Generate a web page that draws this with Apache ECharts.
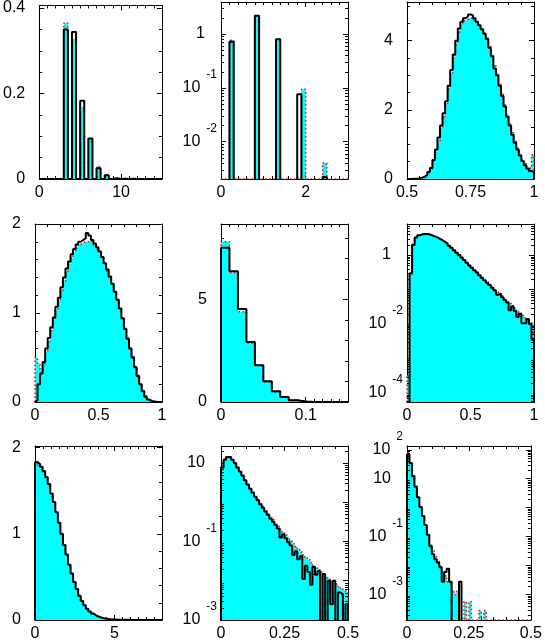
<!DOCTYPE html>
<html>
<head>
<meta charset="utf-8">
<script src="https://cdn.jsdelivr.net/npm/echarts@6/dist/echarts.min.js"></script>
<style>
  html, body { margin: 0; padding: 0; background: #fff; }
  #chart { width: 545px; height: 642px; }
</style>
</head>
<body>
<div id="chart"></div>
<script>
// bin contents (black = open histogram, cyan = filled one)
var p1Black = [0,0,0,0,0,0,0.35,0,0.344,0,0.183,0,0.095,0,0.025,0,0.009,0,0.002,0,0.0007,0,0.0003,0,0,0,0,0,0,0]
var p1Cyan = [0,0,0,0,0,0,0.365,0,0.328,0,0.168,0,0.094,0,0.029,0,0.0095,0,0.0025,0,0.001,0,0.0005,0,0,0,0,0,0,0]

var p2Black = [0,0,0.72,0,0,0,0,0,2.19,0,0,0,0,0.80,0,0,0,0,0.076,0,0,0,0,0,0.0022,0,0,0,0,0]
var p2Cyan = [0,0,0.77,0,0,0,0,0,2.15,0,0,0,0,0.80,0,0,0,0,0,0.094,0,0,0,0,0.004,0,0,0,0,0]

var p3Black = [0,0,0.005,0.01,0.02,0.04,0.07,0.12,0.2,0.32,
  0.55,0.85,1.2,1.55,1.9,2.25,2.7,3.15,3.6,4.0,
  4.35,4.55,4.65,4.7,4.76,4.74,4.65,4.55,4.45,4.33,
  4.2,4.05,3.8,3.55,3.2,3.0,2.7,2.4,2.1,1.8,
  1.55,1.28,1.05,0.85,0.68,0.52,0.4,0.3,0.23,0.2]
var p3Cyan = [0,0,0.005,0.01,0.02,0.035,0.06,0.11,0.18,0.29,
  0.5,0.78,1.1,1.45,1.8,2.15,2.6,3.05,3.5,3.9,
  4.25,4.48,4.58,4.62,4.66,4.66,4.6,4.52,4.44,4.33,
  4.22,4.08,3.85,3.6,3.3,3.05,2.75,2.45,2.15,1.86,
  1.6,1.34,1.1,0.9,0.72,0.56,0.44,0.35,0.3,0.7]

var p4Black = [0.02,0.2,0.32,0.45,0.6,0.72,0.84,0.95,1.07,1.17,
  1.29,1.4,1.5,1.58,1.66,1.72,1.77,1.8,1.82,1.84,
  1.9,1.87,1.82,1.78,1.74,1.69,1.63,1.56,1.49,1.41,
  1.33,1.24,1.15,1.05,0.94,0.82,0.71,0.6,0.5,0.39,
  0.29,0.2,0.12,0.06,0.027,0.012,0.005,0.002,0,0]
var p4Cyan = [0.5,0.42,0.36,0.43,0.56,0.68,0.8,0.92,1.03,1.14,
  1.25,1.36,1.46,1.55,1.62,1.68,1.73,1.77,1.79,1.8,
  1.8,1.81,1.8,1.76,1.72,1.67,1.62,1.55,1.47,1.4,
  1.32,1.23,1.14,1.05,0.94,0.83,0.72,0.61,0.51,0.4,
  0.3,0.21,0.13,0.07,0.03,0.013,0.006,0.002,0.001,0]

var p5Black = [7.52,6.38,4.53,2.93,1.79,1.01,0.52,0.24,0.08,0.02,0.005,0,0,0,0]
var p5Cyan = [7.82,6.32,4.40,2.88,1.79,0.98,0.50,0.23,0.10,0.03,0.005,0,0,0,0]

var p6Black = [0,0.295,2.0,3.24,3.72,3.98,4.07,4.07,3.98,3.72,
  3.47,3.24,2.95,2.69,2.40,2.14,1.86,1.62,1.38,1.17,
  1.0,0.85,0.72,0.60,0.50,0.43,0.36,0.31,0.26,0.22,
  0.186,0.158,0.135,0.112,0.095,0.071,0.076,0.060,0.050,0.042,
  0.025,0.032,0.024,0.016,0.020,0.0105,0.0105,0.014,0.010,0.0035]
var p6Cyan = [0.00032,0.28,1.9,3.16,3.63,3.9,4.0,4.0,3.9,3.7,
  3.45,3.2,2.92,2.66,2.38,2.12,1.85,1.61,1.38,1.17,
  1.0,0.85,0.72,0.61,0.51,0.43,0.37,0.315,0.265,0.225,
  0.19,0.166,0.141,0.12,0.102,0.087,0.076,0.065,0.055,0.047,
  0.040,0.034,0.029,0.0245,0.021,0.0178,0.0151,0.0129,0.011,0.010]

var p7Black = [1.83,1.81,1.78,1.73,1.66,1.58,1.47,1.37,1.25,1.13,
  1.0,0.87,0.76,0.64,0.54,0.44,0.36,0.28,0.22,0.17,
  0.13,0.10,0.075,0.055,0.04,0.03,0.022,0.016,0.012,0.009,
  0.007,0.005,0.004,0.003,0.002,0.002,0.0015,0.001,0.001,0.001,
  0.0008,0.0007,0.0006,0.0005,0.0004,0.0004,0.0003,0.0003,0.0002,0.0002]
var p7Cyan = [1.84,1.8,1.76,1.72,1.65,1.56,1.46,1.35,1.24,1.12,
  0.99,0.87,0.75,0.64,0.54,0.44,0.36,0.29,0.225,0.175,
  0.135,0.1,0.077,0.057,0.042,0.031,0.023,0.017,0.012,0.009,
  0.007,0.005,0.004,0.003,0.0025,0.002,0.0015,0.0012,0.001,0.001,
  0.0008,0.0008,0.0006,0.0005,0.0005,0.0004,0.0003,0.0003,0.0002,0.0002]

var p8Black = [7.6,12.0,14.1,14.1,12.0,10.0,7.6,6.0,4.8,3.6,
  2.8,2.2,1.74,1.38,1.12,0.89,0.72,0.575,0.48,0.38,
  0.316,0.263,0.214,0.126,0.151,0.120,0.095,0.079,0.045,0.056,
  0.035,0.042,0.011,0.024,0.0166,0.0079,0.0224,0.0141,0.0178,0,
  0.0148,0,0.010,0.0025,0.010,0,0.005,0.0045,0,0.0025]
var p8Cyan = [7.9,12.6,14.1,13.5,11.7,9.5,7.6,6.0,4.7,3.6,
  2.9,2.3,1.82,1.45,1.17,0.95,0.78,0.63,0.51,0.43,
  0.355,0.295,0.245,0.204,0.174,0.145,0.123,0.105,0.087,0.074,
  0.063,0.054,0.046,0.039,0.034,0.029,0.025,0.022,0.019,0.0166,
  0.0145,0.0126,0.011,0.0095,0.0056,0.0083,0.0071,0.0063,0.0056,0.005]

var p9Black = [69,35,12.3,5.4,2.3,1.05,0.52,0.25,0.117,0.047,
  0.0245,0.0166,0.0129,0.0087,0.00275,0.006,0.0078,0.00275,0,0,
  0,0.00275,0,0,0,0,0,0,0,0,
  0,0,0,0,0,0,0,0,0,0,
  0,0,0,0,0,0,0,0,0,0]
var p9Cyan = [79,32,11.7,5.2,2.2,1.05,0.5,0.24,0.112,0.056,
  0.032,0.02,0.014,0.010,0.0063,0.0045,0.00275,0.0025,0.0014,0.001,
  0.0014,0,0,0.00056,0,0.00056,0,0,0,0.00028,
  0,0.00028,0,0,0,0,0,0,0,0,
  0,0,0,0,0,0,0,0,0,0]

// axis ranges, bins and tick labels of each pad
var panels = [
  { black: p1Black, cyan: p1Cyan, lo: 0, w: 0.5, x: [0, 15], xi: 10, xm: 10, xl: [0, 10], y: [0, 0.406], yi: 0.2, ym: 4, yl: [0, 0.2, 0.4] },
  { black: p2Black, cyan: p2Cyan, lo: 0, w: 0.1, x: [0, 3], xi: 2, xm: 10, xl: [0, 2], log: true, y: [0.00202, 3.94], yl: [0, -1, -2] },
  { black: p3Black, cyan: p3Cyan, lo: 0.5, w: 0.01, x: [0.5, 1], xi: 0.25, xm: 5, xl: [0.5, 0.75, 1], y: [0, 5.12], yi: 2, ym: 4, yl: [0, 2, 4] },
  { black: p4Black, cyan: p4Cyan, lo: 0, w: 0.02, x: [0, 1], xi: 0.5, xm: 5, xl: [0, 0.5, 1], y: [0, 2], yi: 1, ym: 5, yl: [0, 1, 2] },
  { black: p5Black, cyan: p5Cyan, lo: 0, w: 0.01, x: [0, 0.15], xi: 0.1, xm: 10, xl: [0, 0.1], y: [0, 8.68], yi: 5, ym: 5, yl: [0, 5] },
  { black: p6Black, cyan: p6Cyan, lo: 0, w: 0.02, x: [0, 1], xi: 0.5, xm: 5, xl: [0, 0.5, 1], log: true, y: [5.5e-5, 7.94], yl: [0, -2, -4] },
  { black: p7Black, cyan: p7Cyan, lo: 0, w: 0.16, x: [0, 8], xi: 5, xm: 10, xl: [0, 5], y: [0, 2.02], yi: 1, ym: 5, yl: [0, 1, 2] },
  { black: p8Black, cyan: p8Cyan, lo: 0, w: 0.01, x: [0, 0.5], xi: 0.25, xm: 5, xl: [0, 0.25, 0.5], log: true, y: [0.001, 26.9], yl: [1, -1, -3] },
  { black: p9Black, cyan: p9Cyan, lo: 0, w: 0.01, x: [0, 0.5], xi: 0.25, xm: 5, xl: [0, 0.25, 0.5], log: true, y: [1.32e-4, 135], yl: [2, 1, -1, -3] }
]

var colLeft = [35, 221, 407]
var rowTop = [2, 224, 446]
var padW = 127
var padH = [177, 178, 178]
var FONT = 'Liberation Sans, Arial, sans-serif'

function linFmt (list) {
  return function (v) {
    return list.some(function (l) { return Math.abs(l - v) < 1e-9 }) ? String(+v.toFixed(6)) : ''
  }
}

function logFmt (list) {
  return function (v) {
    var lg = Math.log10(v)
    var e = Math.round(lg)
    if (Math.abs(lg - e) > 1e-6 || list.indexOf(e) < 0) return ''
    if (e === 0) return '{n|1}'
    if (e === 1) return '{n|10}'
    return '{b|10}{e|' + e + '}'
  }
}

// histogram outline as a step line: up at the first edge, down at the last one
function stepPoints (vals, lo, w, floor) {
  var n = vals.length
  var pts = [[lo, floor]]
  for (var i = 0; i < n; i++) {
    pts.push([+(lo + i * w).toFixed(6), vals[i] > 0 ? vals[i] : floor])
  }
  var hi = +(lo + n * w).toFixed(6)
  pts.push([hi, vals[n - 1] > 0 ? vals[n - 1] : floor])
  pts.push([hi, floor])
  return pts
}

// 2..9 x 10^n inside the range, for the log axes
function logMinor (min, max) {
  var out = []
  for (var e = Math.floor(Math.log10(min)); e <= Math.ceil(Math.log10(max)); e++) {
    for (var k = 2; k <= 9; k++) {
      var v = k * Math.pow(10, e)
      if (v > min && v < max) out.push(v)
    }
  }
  return out
}

var tickStyle = { color: '#000', width: 1 }
var option = { animation: false, backgroundColor: '#fff', grid: [], xAxis: [], yAxis: [], series: [] }

panels.forEach(function (p, k) {
  var col = k % 3
  var row = Math.floor(k / 3)
  option.grid.push({ left: colLeft[col], top: rowTop[row], width: padW, height: padH[row], show: false })

  var xBase = {
    gridIndex: k, type: 'value', min: p.x[0], max: p.x[1], interval: p.xi,
    axisLine: { show: true, onZero: false, lineStyle: { color: '#000', width: 1 } },
    axisTick: { show: true, inside: true, length: 5, lineStyle: tickStyle },
    minorTick: { show: true, splitNumber: p.xm, length: 3, lineStyle: tickStyle },
    splitLine: { show: false }
  }
  option.xAxis.push(Object.assign({}, xBase, {
    position: 'bottom',
    axisLabel: { show: true, margin: 6, fontFamily: FONT, fontSize: 16, color: '#000', formatter: linFmt(p.xl) }
  }))
  option.xAxis.push(Object.assign({}, xBase, { position: 'top', axisLabel: { show: false } }))

  var yBase
  var yLabel
  if (p.log) {
    yBase = {
      gridIndex: k, type: 'log', logBase: 10, min: p.y[0], max: p.y[1],
      axisLine: { show: true, onZero: false, lineStyle: { color: '#000', width: 1 } },
      axisTick: { show: true, inside: true, length: 5, lineStyle: tickStyle },
      minorTick: { show: false },
      splitLine: { show: false }
    }
    yLabel = {
      show: true, margin: 4, color: '#000', formatter: logFmt(p.yl),
      rich: {
        n: { fontFamily: FONT, fontSize: 16, lineHeight: 18, color: '#000', padding: [0, 12, 0, 0] },
        b: { fontFamily: FONT, fontSize: 16, lineHeight: 18, color: '#000' },
        e: { fontFamily: FONT, fontSize: 12, lineHeight: 13, color: '#000', padding: [0, 0, 26, 6] }
      }
    }
  } else {
    yBase = {
      gridIndex: k, type: 'value', min: p.y[0], max: p.y[1], interval: p.yi,
      axisLine: { show: true, onZero: false, lineStyle: { color: '#000', width: 1 } },
      axisTick: { show: true, inside: true, length: 5, lineStyle: tickStyle },
      minorTick: { show: true, splitNumber: p.ym, length: 3, lineStyle: tickStyle },
      splitLine: { show: false }
    }
    yLabel = { show: true, margin: 14, fontFamily: FONT, fontSize: 16, color: '#000', formatter: linFmt(p.yl) }
  }
  option.yAxis.push(Object.assign({}, yBase, { position: 'left', axisLabel: yLabel }))
  option.yAxis.push(Object.assign({}, yBase, { position: 'right', axisLabel: { show: false } }))

  // empty cyan bins run along the bottom of the pad, empty black ones drop out of it
  var cyanFloor = p.log ? p.y[0] : 0
  var blackFloor = p.log ? 1e-9 : 0
  option.series.push({
    type: 'line', xAxisIndex: 2 * k, yAxisIndex: 2 * k, step: 'end',
    data: stepPoints(p.cyan, p.lo, p.w, cyanFloor),
    symbol: 'none', silent: true, z: 2,
    lineStyle: { color: '#ff0000', width: 1.5, type: [1.5, 2.5] },
    areaStyle: { color: '#00ffff', opacity: 1, origin: 'start' }
  })
  option.series.push({
    type: 'line', xAxisIndex: 2 * k, yAxisIndex: 2 * k, step: 'end',
    data: stepPoints(p.black, p.lo, p.w, blackFloor),
    symbol: 'none', silent: true, z: 3,
    lineStyle: { color: '#000', width: 2 }
  })

  if (p.log) {
    option.series.push({
      type: 'custom', xAxisIndex: 2 * k, yAxisIndex: 2 * k, silent: true, z: 4,
      data: logMinor(p.y[0], p.y[1]).map(function (v) { return [p.x[0], v] }),
      renderItem: function (params, api) {
        var cs = params.coordSys
        var y = Math.round(api.coord([api.value(0), api.value(1)])[1]) + 0.5
        return {
          type: 'group',
          children: [
            { type: 'line', shape: { x1: cs.x, y1: y, x2: cs.x + 3, y2: y }, style: { stroke: '#000', lineWidth: 1 } },
            { type: 'line', shape: { x1: cs.x + cs.width - 3, y1: y, x2: cs.x + cs.width, y2: y }, style: { stroke: '#000', lineWidth: 1 } }
          ]
        }
      }
    })
  }
})

var myChart = echarts.init(document.getElementById('chart'))
myChart.setOption(option)
</script>
</body>
</html>
